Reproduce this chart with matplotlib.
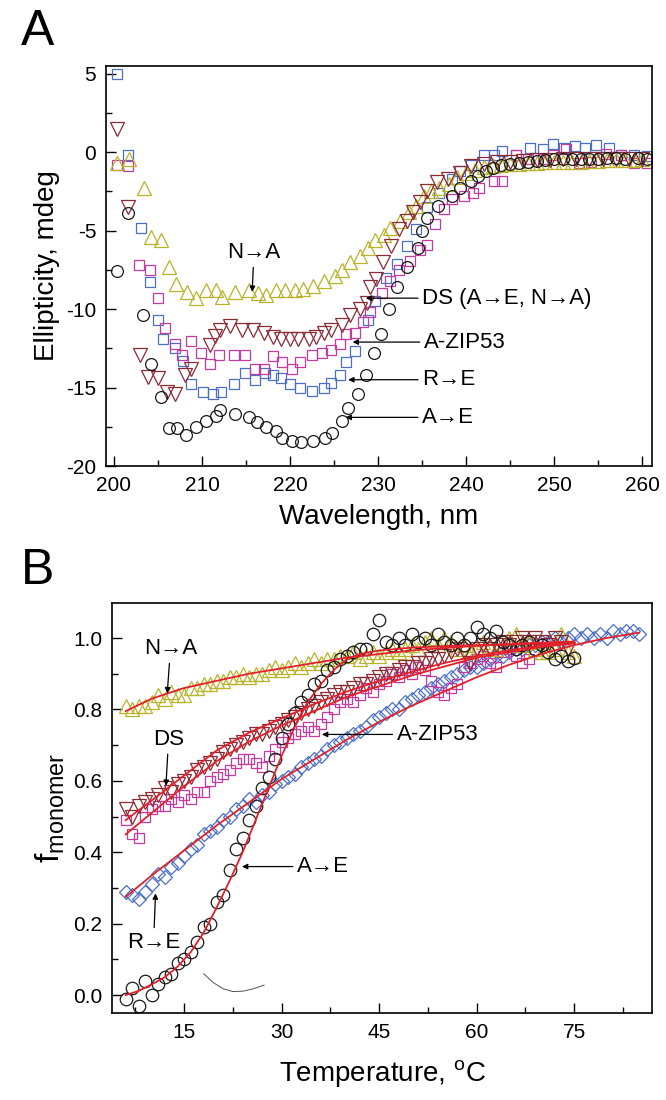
import matplotlib
matplotlib.use("Agg")
import matplotlib.pyplot as plt

plt.rcParams['font.family'] = ['Liberation Sans', 'DejaVu Sans']
plt.rcParams['mathtext.fontset'] = 'custom'
plt.rcParams['mathtext.rm'] = 'Liberation Sans'
plt.rcParams['mathtext.it'] = 'Liberation Sans'
plt.rcParams['axes.unicode_minus'] = False

# ---------------- Panel A data (CD spectra) ----------------
wl_ae = [200.3, 201.6, 203.3, 204.2, 205.3, 206.2, 207.2, 208.2, 209.3, 210.5, 211.6, 212.0,
         213.8, 215.3, 216.3, 217.3, 218.4, 219.1, 220.2, 221.2, 222.6, 224.0, 224.8, 225.9,
         226.6, 227.7, 228.6, 229.5, 230.3, 231.2, 232.1, 233.3, 234.5, 235.0, 235.6, 236.8,
         238.4, 239.3, 240.5, 241.3, 242.2, 243.1, 244.0, 245.0, 246.0, 247.0, 248.0, 249.0,
         250.0, 251.0, 252.0, 253.0, 254.0, 255.0, 256.0, 257.0, 258.0, 259.5, 260.5]
cd_ae = [-7.6, -3.9, -10.4, -13.5, -15.6, -17.6, -17.6, -18.0, -17.5, -17.1, -16.8, -16.4,
         -16.7, -16.9, -17.2, -17.5, -17.8, -18.2, -18.4, -18.5, -18.4, -18.2, -17.9, -17.1,
         -16.3, -15.4, -14.2, -12.8, -11.6, -10.0, -8.6, -7.3, -6.1, -5.0, -4.2, -3.4,
         -2.8, -2.3, -1.8, -1.5, -1.2, -1.0, -0.8, -0.75, -0.7, -0.6, -0.55, -0.5,
         -0.45, -0.45, -0.4, -0.45, -0.4, -0.4, -0.35, -0.35, -0.4, -0.35, -0.4]

wl_na = [200.3, 201.7, 203.4, 204.2, 205.4, 206.2, 207.1, 208.3, 209.3, 210.5, 211.6, 212.3,
         213.8, 215.3, 216.4, 217.3, 218.4, 219.4, 220.6, 221.5, 222.6, 223.9, 225.1, 225.9,
         226.8, 227.9, 228.8, 229.7, 230.7, 231.4, 232.5, 233.5, 234.3, 235.2, 236.0, 236.9,
         238, 239, 240, 241, 242, 243, 244, 245, 246, 247, 248, 249, 250, 251, 252, 253,
         254, 255, 256, 257, 258, 259, 260]
cd_na = [-0.7, -0.4, -2.3, -5.4, -5.6, -7.3, -8.4, -8.9, -9.3, -8.8, -8.8, -9.2,
         -8.9, -8.8, -9.0, -9.1, -8.8, -8.8, -8.8, -8.7, -8.5, -8.2, -7.9, -7.5,
         -7.0, -6.6, -6.1, -5.6, -5.3, -4.8, -4.4, -3.8, -3.4, -2.8, -2.5, -2.3,
         -2.0, -1.6, -1.3, -1.1, -0.95, -0.85, -0.8, -0.75, -0.75, -0.7, -0.7, -0.65,
         -0.65, -0.6, -0.6, -0.6, -0.55, -0.55, -0.5, -0.5, -0.5, -0.5, -0.45]

wl_ds = [200.3, 201.6, 203.0, 203.9, 205.0, 206.0, 206.9, 208.1, 208.8, 210.9, 211.5, 212.0,
         213.2, 214.5, 215.8, 217.0, 218.1, 219.0, 220.0, 220.9, 222.1, 223.0, 223.8, 224.7,
         225.9, 226.8, 227.9, 228.7, 229.1, 229.8, 230.6, 231.5, 232.4, 233.3, 234.0, 234.8,
         235.5, 236.7, 237.9, 239.3, 240.5, 242.0, 243.5, 245.0, 246.5, 248.0, 249.5, 251.0,
         252.5, 254.0, 255.5, 257.0, 258.5, 260.0]
cd_ds = [1.5, -3.5, -12.9, -14.3, -14.4, -15.3, -15.4, -14.2, -13.8, -12.3, -11.7, -11.3,
         -11.1, -11.3, -11.3, -11.5, -11.8, -11.9, -11.9, -11.9, -11.9, -11.8, -11.5, -11.3,
         -11.0, -10.4, -10.0, -9.6, -8.6, -8.1, -7.0, -6.0, -4.9, -4.4, -3.8, -3.2,
         -2.5, -1.9, -1.7, -1.3, -0.9, -0.75, -0.65, -0.6, -0.55, -0.5, -0.5, -0.45,
         -0.45, -0.4, -0.4, -0.4, -0.4, -0.4]

wl_re = [200.3, 201.6, 203.1, 204.1, 205.0, 205.6, 206.9, 207.8, 208.8, 210.1, 211.3, 212.2,
         213.6, 214.9, 216.0, 217.2, 218.1, 219.0, 220.0, 221.1, 222.5, 223.8, 224.7, 225.7,
         226.4, 227.4, 228.8, 229.7, 230.9, 232.1, 233.3, 234.3, 235.5, 236.9, 238.4, 239.3,
         240.5, 242.0, 243.2, 244.1, 245.6, 247.3, 248.7, 249.9, 251.1, 252.3, 253.5, 254.7,
         256.2, 257.6, 259.0, 260.5]
cd_re = [5.0, -0.2, -4.8, -8.3, -10.7, -11.9, -12.5, -13.3, -14.8, -15.3, -15.4, -15.3,
         -14.8, -14.1, -14.5, -14.1, -14.2, -14.4, -14.8, -15.0, -15.2, -15.0, -14.7, -14.2,
         -13.4, -12.7, -10.7, -9.5, -8.0, -7.1, -6.0, -4.9, -3.5, -2.6, -1.7, -1.2,
         -0.8, -0.15, -0.15, 0.05, -0.15, 0.3, 0.2, 0.5, 0.3, 0.4, 0.3, 0.45,
         0.3, -0.15, -0.15, -0.25]

wl_az = [200.3, 201.6, 202.9, 204.1, 205.0, 205.8, 206.9, 207.7, 208.8, 209.9, 210.9, 211.9,
         213.6, 214.9, 216.0, 217.0, 218.1, 219.1, 220.2, 221.1, 222.5, 223.6, 224.7, 225.7,
         226.4, 227.4, 228.3, 229.1, 230.4, 231.4, 232.4, 233.6, 234.8, 235.5, 236.5, 237.5,
         238.4, 239.8, 240.8, 241.5, 243.2, 244.1, 245.6, 247.0, 248.7, 249.9, 251.3, 252.8,
         254.2, 255.9, 257.6, 259.0, 260.5]
cd_az = [-0.8, -0.9, -7.2, -7.5, -9.3, -11.2, -12.2, -12.9, -12.0, -12.8, -13.5, -12.9,
         -12.9, -12.9, -13.8, -13.8, -13.0, -13.4, -13.8, -13.4, -12.9, -12.8, -12.6, -12.2,
         -11.6, -11.5, -10.8, -10.2, -9.0, -8.2, -7.5, -6.9, -6.2, -5.9, -4.6, -3.6,
         -2.95, -2.8, -2.6, -2.3, -1.8, -1.8, -0.15, -0.4, -0.4, -0.15, 0.2, -0.7,
         -0.6, -0.1, -0.15, -0.7, -0.7]

# ---------------- Panel B data (thermal denaturation) ----------------
T_ae = list(range(6, 76))
f_ae = [-0.01, 0.02, -0.03, 0.04, 0.0, 0.03, 0.05, 0.06, 0.09, 0.10, 0.12, 0.15, 0.19, 0.20,
        0.26, 0.28, 0.35, 0.41, 0.44, 0.49, 0.53, 0.58, 0.61, 0.66, 0.72, 0.76, 0.79, 0.82,
        0.84, 0.87, 0.88, 0.91, 0.92, 0.94, 0.95, 0.96, 0.97, 0.97, 1.01, 1.05, 0.99, 0.98,
        1.00, 0.98, 1.01, 0.99, 1.00, 0.98, 1.01, 0.99, 0.98, 1.00, 0.98, 1.00, 1.03, 1.01,
        1.00, 1.02, 0.99, 0.98, 0.97, 0.98, 0.99, 0.97, 0.98, 0.96, 0.94, 0.95, 0.935, 0.945]

T_na = list(range(6, 76))
f_na = [0.81, 0.80, 0.81, 0.81, 0.82, 0.84, 0.83, 0.85, 0.84, 0.84, 0.86, 0.86, 0.87, 0.87,
        0.88, 0.88, 0.89, 0.89, 0.90, 0.89, 0.90, 0.90, 0.91, 0.92, 0.91, 0.92, 0.93, 0.92,
        0.93, 0.94, 0.93, 0.94, 0.94, 0.95, 0.95, 0.96, 0.94, 0.95, 0.96, 0.95, 0.96, 0.97,
        0.96, 0.97, 0.98, 0.97, 0.99, 1.00, 0.98, 1.00, 0.99, 0.97, 0.98, 0.96, 0.97, 0.99,
        0.98, 0.97, 0.98, 1.00, 1.01, 0.98, 0.99, 0.97, 0.96, 0.96, 0.97, 1.01, 0.96, 0.95]

T_ds = list(range(6, 75))
f_ds = [0.52, 0.50, 0.53, 0.54, 0.55, 0.56, 0.58, 0.57, 0.59, 0.60, 0.61, 0.63, 0.64, 0.65,
        0.66, 0.68, 0.69, 0.70, 0.71, 0.72, 0.73, 0.73, 0.74, 0.75, 0.76, 0.77, 0.78, 0.79,
        0.80, 0.81, 0.82, 0.83, 0.84, 0.85, 0.85, 0.86, 0.87, 0.87, 0.88, 0.89, 0.90, 0.90,
        0.91, 0.92, 0.92, 0.93, 0.93, 0.94, 0.94, 0.95, 0.96, 0.97, 0.96, 0.93, 0.97, 0.98,
        0.97, 0.98, 0.99, 0.98, 0.99, 1.00, 0.99, 1.00, 0.99, 0.98, 1.00, 0.99, 0.97]

T_az = list(range(6, 69))
f_az = [0.49, 0.45, 0.44, 0.50, 0.52, 0.53, 0.53, 0.55, 0.54, 0.56, 0.55, 0.57, 0.57, 0.60,
        0.61, 0.62, 0.63, 0.65, 0.66, 0.66, 0.65, 0.64, 0.67, 0.69, 0.71, 0.72, 0.73, 0.74,
        0.75, 0.74, 0.76, 0.78, 0.80, 0.82, 0.83, 0.82, 0.84, 0.86, 0.85, 0.87, 0.88, 0.90,
        0.89, 0.91, 0.90, 0.92, 0.91, 0.88, 0.85, 0.84, 0.86, 0.87, 0.92, 0.93, 0.94, 0.95,
        0.93, 0.92, 0.96, 0.97, 0.95, 0.93, 0.94]

T_re = list(range(6, 86))
f_re = [0.29, 0.28, 0.27, 0.29, 0.31, 0.34, 0.33, 0.36, 0.37, 0.39, 0.41, 0.42, 0.45, 0.46,
        0.47, 0.49, 0.50, 0.52, 0.53, 0.55, 0.54, 0.56, 0.57, 0.59, 0.60, 0.61, 0.62, 0.64,
        0.65, 0.66, 0.67, 0.69, 0.70, 0.71, 0.72, 0.73, 0.74, 0.75, 0.77, 0.78, 0.79, 0.80,
        0.80, 0.82, 0.83, 0.84, 0.85, 0.86, 0.87, 0.88, 0.89, 0.90, 0.91, 0.92, 0.92, 0.93,
        0.94, 0.95, 0.95, 0.96, 0.97, 0.97, 0.98, 0.98, 0.99, 0.99, 1.00, 0.99, 1.00, 1.01,
        1.00, 1.01, 1.00, 1.01, 1.00, 1.02, 1.01, 1.02, 1.02, 1.01]

# fitted curves
fitT_ae = [6, 8, 10, 12, 14, 16, 18, 20, 22, 24, 26, 28, 30, 32, 34, 36, 38, 40, 42, 45,
           50, 55, 60, 65, 70, 75]
fit_ae = [0.0, 0.012, 0.03, 0.05, 0.08, 0.12, 0.175, 0.245, 0.32, 0.40, 0.49, 0.58, 0.67,
          0.75, 0.82, 0.87, 0.91, 0.94, 0.955, 0.965, 0.973, 0.977, 0.98, 0.982, 0.984, 0.985]
fitT_na = [6, 10, 15, 20, 25, 30, 35, 40, 45, 50, 55, 60, 65, 70, 75]
fit_na = [0.795, 0.83, 0.86, 0.88, 0.90, 0.915, 0.93, 0.945, 0.955, 0.965, 0.972, 0.978,
          0.983, 0.987, 0.99]
fitT_ds = [6, 10, 15, 20, 25, 30, 35, 40, 45, 50, 55, 60, 65, 70, 75]
fit_ds = [0.49, 0.545, 0.615, 0.685, 0.735, 0.775, 0.815, 0.85, 0.88, 0.905, 0.93, 0.95,
          0.965, 0.98, 0.99]
fitT_az = [6, 10, 15, 20, 25, 30, 35, 40, 45, 50, 55, 60, 65, 70, 75]
fit_az = [0.45, 0.51, 0.585, 0.655, 0.71, 0.755, 0.795, 0.835, 0.865, 0.895, 0.92, 0.945,
          0.96, 0.975, 0.985]
fitT_re = [6, 10, 15, 20, 25, 30, 35, 40, 45, 50, 55, 60, 65, 70, 75, 80, 85]
fit_re = [0.275, 0.335, 0.405, 0.475, 0.54, 0.605, 0.66, 0.715, 0.765, 0.81, 0.85, 0.89,
          0.925, 0.955, 0.98, 1.0, 1.015]

arc_T = [18.0, 19.5, 21.0, 22.5, 24.0, 25.5, 27.3]
arc_f = [0.06, 0.035, 0.018, 0.01, 0.011, 0.017, 0.028]

# ---------------- styles ----------------
C_BLACK = '#1a1a1a'
C_OLIVE = '#b8b32a'
C_MAROON = '#8a2a35'
C_BLUE = '#4a70c6'
C_MAG = '#c43a9e'
C_RED = '#e3202a'

fig = plt.figure(figsize=(6.66, 11.0), dpi=100)
W, H = 666, 1100
axA = fig.add_axes([106 / W, 1 - 466 / H, 546 / W, 400 / H])
axB = fig.add_axes([112 / W, 1 - 1013 / H, 540 / W, 410 / H])

mk = dict(linestyle='none', fillstyle='none', markeredgewidth=0.9)

# Panel A
axA.plot(wl_re, cd_re, marker='s', ms=7.5, color=C_BLUE, **mk)
axA.plot(wl_az, cd_az, marker='s', ms=7.5, color=C_MAG, **mk)
axA.plot(wl_na, cd_na, marker='^', ms=9.5, color=C_OLIVE, **mk)
axA.plot(wl_ds, cd_ds, marker='v', ms=9.5, color=C_MAROON, **mk)
axA.plot(wl_ae, cd_ae, marker='o', ms=8.5, color=C_BLACK, **mk)

axA.set_xlim(199.1, 261.1)
axA.set_ylim(-20, 5.5)
axA.set_xticks([200, 210, 220, 230, 240, 250, 260])
axA.set_xticks(list(range(205, 261, 10)), minor=True)
axA.set_yticks([5, 0, -5, -10, -15, -20])
axA.set_yticks([2.5, -2.5, -7.5, -12.5, -17.5], minor=True)
axA.set_xlabel('Wavelength, nm', fontsize=20, labelpad=7)
axA.set_ylabel('Ellipticity, mdeg', fontsize=20, labelpad=4)

# Panel B
axB.plot(T_re, f_re, marker='D', ms=7.5, color=C_BLUE, **mk)
axB.plot(T_az, f_az, marker='s', ms=7.5, color=C_MAG, **mk)
axB.plot(T_na, f_na, marker='^', ms=9.5, color=C_OLIVE, **mk)
axB.plot(T_ds, f_ds, marker='v', ms=9.5, color=C_MAROON, **mk)
axB.plot(T_ae, f_ae, marker='o', ms=9, color=C_BLACK, **mk)
for tx, fy in [(fitT_na, fit_na), (fitT_ds, fit_ds), (fitT_az, fit_az),
               (fitT_re, fit_re), (fitT_ae, fit_ae)]:
    axB.plot(tx, fy, color=C_RED, lw=1.3)
axB.plot(arc_T, arc_f, color='#555555', lw=0.7)

axB.set_xlim(3.9, 87.0)
axB.set_ylim(-0.05, 1.098)
axB.set_xticks([15, 30, 45, 60, 75])
axB.set_xticks([7.5, 22.5, 37.5, 52.5, 67.5, 82.5], minor=True)
axB.set_yticks([0.0, 0.2, 0.4, 0.6, 0.8, 1.0])
axB.set_yticklabels(['0.0', '0.2', '0.4', '0.6', '0.8', '1.0'])
axB.set_yticks([0.1, 0.3, 0.5, 0.7, 0.9], minor=True)
axB.set_xlabel(r'Temperature, $^{\mathrm{o}}$C', fontsize=20, labelpad=12)
axB.set_ylabel(r'$\mathrm{f}_{\mathrm{monomer}}$', fontsize=24, labelpad=4)

for ax in (axA, axB):
    ax.tick_params(which='both', direction='in', top=False, right=False,
                   labelsize=15, width=1.0, color='k')
    ax.tick_params(which='major', length=7, pad=7)
    ax.tick_params(which='minor', length=4)
    for s in ax.spines.values():
        s.set_linewidth(1.2)

arrow = dict(arrowstyle='-|>', color='k', lw=0.9, mutation_scale=8,
             shrinkA=1, shrinkB=0)
afs = 16

# Panel A annotations
axA.annotate('N→A', xy=(215.7, -8.9), xytext=(215.9, -6.4), fontsize=afs,
             ha='center', va='center', arrowprops=arrow)
axA.annotate('DS (A→E, N→A)', xy=(228.6, -9.3), xytext=(235.0, -9.3), fontsize=afs,
             ha='left', va='center', arrowprops=arrow)
axA.annotate('A-ZIP53', xy=(227.1, -12.1), xytext=(235.2, -12.1), fontsize=afs,
             ha='left', va='center', arrowprops=arrow)
axA.annotate('R→E', xy=(226.6, -14.5), xytext=(235.0, -14.5), fontsize=afs,
             ha='left', va='center', arrowprops=arrow)
axA.annotate('A→E', xy=(226.3, -16.9), xytext=(235.0, -16.9), fontsize=afs,
             ha='left', va='center', arrowprops=arrow)

# Panel B annotations
axB.annotate('N→A', xy=(12.4, 0.845), xytext=(12.9, 0.97), fontsize=afs,
             ha='center', va='center', arrowprops=arrow)
axB.annotate('DS', xy=(12.2, 0.586), xytext=(12.6, 0.716), fontsize=afs,
             ha='center', va='center', arrowprops=arrow)
axB.annotate('A-ZIP53', xy=(36.2, 0.73), xytext=(47.7, 0.73), fontsize=afs,
             ha='left', va='center', arrowprops=arrow)
axB.annotate('A→E', xy=(23.9, 0.36), xytext=(32.4, 0.36), fontsize=afs,
             ha='left', va='center', arrowprops=arrow)
axB.annotate('R→E', xy=(10.6, 0.285), xytext=(10.3, 0.148), fontsize=afs,
             ha='center', va='center', arrowprops=arrow)

fig.text(38 / W, 1 - 32 / H, 'A', fontsize=36, ha='center', va='center')
fig.text(38 / W, 1 - 571 / H, 'B', fontsize=36, ha='center', va='center')

fig.savefig('out.png', dpi=100)
